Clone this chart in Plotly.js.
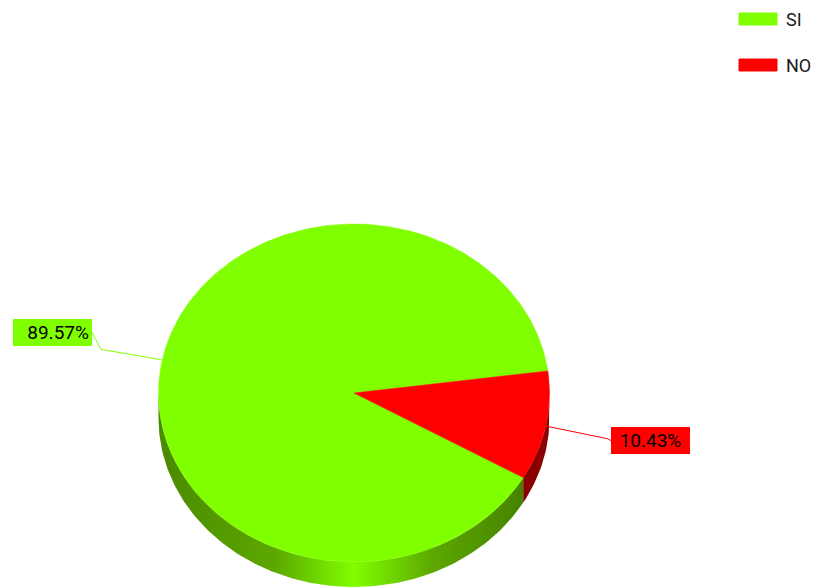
<!DOCTYPE html>
<html>
<head>
<meta charset="utf-8">
<script src="https://cdn.plot.ly/plotly-3.0.1.min.js"></script>
<style>html,body{margin:0;padding:0;background:#fff;}#chart{width:819px;height:588px;}</style>
</head>
<body>
<div id="chart"></div>
<script>
// ---- data ----
const labels = ['SI', 'NO'];
const values = [89.57, 10.43];
const colors = ['#80ff00', '#ff0000'];
const sideColorscales = [
  [[0, '#4a8a00'], [0.3, '#5ca800'], [0.5, '#80ff00'], [0.7, '#5ca800'], [1, '#3f7800']],
  [[0, '#7a0000'], [1, '#8b0000']]
];

// ---- pie geometry (style/layout) ----
const W = 819, H = 588;
const cx = 354, cy = 393, rx = 195.5, ry = 169, depth = 25;
const startAngle = 7.5; // degrees, counter-clockwise
const rad = d => d * Math.PI / 180;
const px = t => cx + rx * Math.cos(rad(t));
const py = t => cy - ry * Math.sin(rad(t));

const total = values.reduce((a, b) => a + b, 0);
const sideTraces = [];
const topTraces = [];
const slices = [];
let a = startAngle;
values.forEach((v, i) => {
  const span = v / total * 360;
  slices.push({ s: a, e: a + span, m: a + span / 2 });
  a += span;
});

// sides (visible lower half: angles 180..360 mod 360)
slices.forEach((sl, i) => {
  [[180, 360], [540, 720]].forEach(([lo, hi]) => {
    const s = Math.max(sl.s, lo), e = Math.min(sl.e, hi);
    if (e <= s) return;
    const xs = [], ys = [];
    const n = Math.max(4, Math.ceil((e - s) / 1));
    for (let k = 0; k <= n; k++) { const t = s + (e - s) * k / n; xs.push(px(t)); ys.push(py(t)); }
    for (let k = n; k >= 0; k--) { const t = s + (e - s) * k / n; xs.push(px(t)); ys.push(py(t) + depth); }
    sideTraces.push({
      type: 'scatter', mode: 'lines', x: xs, y: ys, fill: 'toself',
      fillgradient: { type: 'horizontal', start: cx - rx, stop: cx + rx, colorscale: sideColorscales[i] },
      line: { width: 0 }, hoverinfo: 'skip', showlegend: false
    });
  });
});

// top faces
slices.forEach((sl, i) => {
  const xs = [cx], ys = [cy];
  const n = Math.max(4, Math.ceil(sl.e - sl.s));
  for (let k = 0; k <= n; k++) { const t = sl.s + (sl.e - sl.s) * k / n; xs.push(px(t)); ys.push(py(t)); }
  xs.push(cx); ys.push(cy);
  topTraces.push({
    type: 'scatter', mode: 'lines', x: xs, y: ys, fill: 'toself', fillcolor: colors[i],
    line: { width: 0.5, color: colors[i] }, name: labels[i], text: labels[i] + ': ' + (values[i] / total * 100).toFixed(2) + '%',
    hoveron: 'fills', hoverinfo: 'text', showlegend: false
  });
});

// label connectors + boxes
const annotations = [];
const labelTraces = [];
slices.forEach((sl, i) => {
  const t = ((sl.m % 360) + 360) % 360;
  const P = [px(t), py(t)];
  const right = Math.cos(rad(t)) >= 0;
  const E = [cx + 1.32 * (P[0] - cx), cy + 1.32 * (P[1] - cy) + (right ? 2 : 0)];
  const B = right ? [E[0] + 4, E[1] + 2] : [E[0] - 9, E[1] - 17];
  labelTraces.push({
    type: 'scatter', mode: 'lines', x: [P[0], E[0], B[0]], y: [P[1], E[1], B[1]],
    line: { color: colors[i], width: 1 }, hoverinfo: 'skip', showlegend: false
  });
  annotations.push({
    x: B[0], y: B[1], xref: 'x', yref: 'y', xanchor: right ? 'left' : 'right', yanchor: 'middle',
    text: (values[i] / total * 100).toFixed(2) + '%', showarrow: false,
    font: { family: 'Roboto, Arial, sans-serif', size: 19, color: '#000' },
    bgcolor: colors[i], bordercolor: colors[i], borderwidth: 1, borderpad: 2,
    width: 73, height: 21, align: right ? 'center' : 'right'
  });
});

// legend (custom)
const shapes = [];
labels.forEach((lab, i) => {
  const y0 = 13 + i * 46;
  shapes.push({ type: 'rect', xref: 'x', yref: 'y', x0: 739, x1: 777, y0: y0, y1: y0 + 12,
    fillcolor: colors[i], line: { width: 1, color: colors[i] } });
  annotations.push({ x: 784, y: y0 + 6, xref: 'x', yref: 'y', xanchor: 'left', yanchor: 'middle',
    text: lab, showarrow: false, font: { family: 'Roboto, Arial, sans-serif', size: 18, color: '#1a1a1a' } });
});

const layout = {
  width: W, height: H, margin: { l: 0, r: 0, t: 0, b: 0 },
  paper_bgcolor: '#fff', plot_bgcolor: '#fff',
  xaxis: { range: [0, W], visible: false, fixedrange: true },
  yaxis: { range: [H, 0], visible: false, fixedrange: true },
  showlegend: false, annotations: annotations, shapes: shapes
};

Plotly.newPlot('chart', [...sideTraces, ...topTraces, ...labelTraces], layout, { displayModeBar: false, staticPlot: true });
</script>
</body>
</html>
